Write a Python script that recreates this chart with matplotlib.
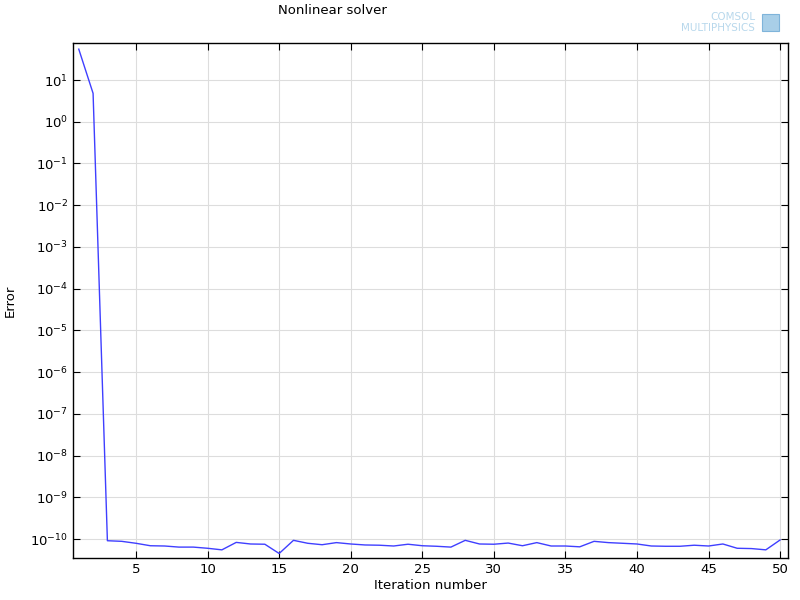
import matplotlib
matplotlib.use("Agg")
import matplotlib.pyplot as plt
from matplotlib.ticker import NullLocator
from matplotlib.patches import Rectangle

# Nonlinear solver convergence
iterations = list(range(1, 51))
errors = [
    55, 4.8,
    0.91e-10, 0.88e-10, 0.79e-10, 0.69e-10, 0.68e-10, 0.64e-10, 0.64e-10, 0.60e-10,
    0.55e-10, 0.83e-10, 0.76e-10, 0.75e-10, 0.45e-10, 0.93e-10, 0.79e-10, 0.73e-10,
    0.82e-10, 0.76e-10, 0.72e-10, 0.71e-10, 0.68e-10, 0.75e-10, 0.69e-10, 0.67e-10,
    0.64e-10, 0.93e-10, 0.76e-10, 0.75e-10, 0.80e-10, 0.69e-10, 0.82e-10, 0.68e-10,
    0.68e-10, 0.65e-10, 0.88e-10, 0.82e-10, 0.79e-10, 0.76e-10, 0.68e-10, 0.67e-10,
    0.67e-10, 0.71e-10, 0.68e-10, 0.76e-10, 0.60e-10, 0.59e-10, 0.55e-10, 0.95e-10,
]
x_ticks = [5, 10, 15, 20, 25, 30, 35, 40, 45, 50]
y_exponents = list(range(-10, 2))

fig = plt.figure(figsize=(8, 6), dpi=100)
ax = fig.add_axes([0.0913, 0.07, 0.8937, 0.8583])

ax.plot(iterations, errors, color="#3f3fff", lw=1.0)
ax.set_yscale("log")
ax.set_xlim(0.6, 50.55)
ax.set_ylim(10**-10.455, 10**1.887)
ax.set_xticks(x_ticks)
ax.set_yticks([10.0**e for e in y_exponents],
              [f"$10^{{{e}}}$" for e in y_exponents])
ax.yaxis.set_minor_locator(NullLocator())

ax.grid(True, color="#dddddd", lw=0.8)
ax.set_axisbelow(True)
ax.tick_params(direction="in", top=True, right=True, length=5, width=0.8,
               labelsize=9.5, colors="black")
for s in ax.spines.values():
    s.set_linewidth(1)

ax.set_xlabel("Iteration number", fontsize=9.5, labelpad=2)
ax.set_ylabel("Error", fontsize=9.5, labelpad=10)
fig.text(0.415, 0.982, "Nonlinear solver", ha="center", va="center", fontsize=9.5)

# COMSOL logo
fig.text(0.944, 0.971, "COMSOL", ha="right", va="center", fontsize=7.5,
         color="#b8d8ec")
fig.text(0.943, 0.954, "MULTIPHYSICS", ha="right", va="center", fontsize=7.5,
         color="#b8d8ec")
fig.patches.append(Rectangle((0.953, 0.948), 0.021, 0.028, transform=fig.transFigure,
                             facecolor="#a9cfe8", edgecolor="#7fb4da", lw=0.8))

fig.savefig("out.png", dpi=100)
